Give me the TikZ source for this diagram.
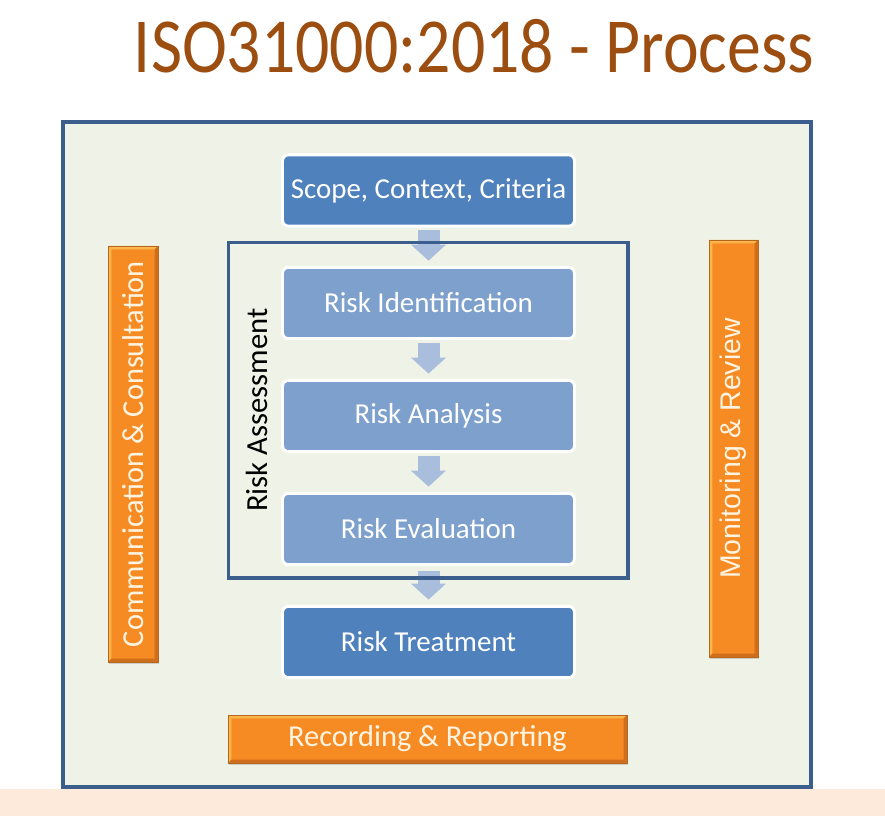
\documentclass[tikz,border=0pt]{standalone}
\usepackage{fontspec}
\setmainfont{Carlito}
\newfontfamily\arialf{Liberation Sans}
\usetikzlibrary{arrows.meta,shadows}
\definecolor{framefill}{HTML}{EFF2E7}
\definecolor{frameline}{HTML}{3B5E8C}
\definecolor{boxdark}{HTML}{4F81BD}
\definecolor{boxlight}{HTML}{7DA0CD}
\definecolor{arrowblue}{HTML}{A9BEDC}
\definecolor{orangemid}{HTML}{F68B24}
\definecolor{orangelight}{HTML}{FAB64A}
\definecolor{orangedark}{HTML}{CF6E1C}
\definecolor{orangeedge}{HTML}{B8681E}
\definecolor{barText}{HTML}{FFF4E2}
\definecolor{peach}{HTML}{FDEADA}
\definecolor{titlebrown}{HTML}{9C4D10}
\tikzset{
  bodyfont/.style={font=\fontsize{21.7}{25}\selectfont},
  barfont/.style={font=\fontsize{22.8}{26}\selectfont},
  bluebox/.style={rectangle, rounded corners=4.5pt, draw=white, line width=2.2pt,
    fill=boxdark, text=white, minimum width=219pt, minimum height=53.5pt,
    inner sep=0pt, outer sep=0pt, bodyfont},
  lightbox/.style={bluebox, fill=boxlight},
  orangebar/.style={rectangle, draw=orangeedge, line width=0.4pt,
    fill=orangemid, text=barText, inner sep=0pt, outer sep=0pt, barfont,
    drop shadow={opacity=0.3, shadow xshift=1pt, shadow yshift=-1.5pt},
    path picture={
      \coordinate (nw) at (path picture bounding box.north west);
      \coordinate (ne) at (path picture bounding box.north east);
      \coordinate (sw) at (path picture bounding box.south west);
      \coordinate (se) at (path picture bounding box.south east);
      \fill[orangelight] (nw) -- (ne) -- ([shift={(-2.5pt,-2.5pt)}]ne) -- ([shift={(2.5pt,-2.5pt)}]nw) -- cycle;
      \fill[orangelight] (nw) -- (sw) -- ([shift={(2.5pt,2.5pt)}]sw) -- ([shift={(2.5pt,-2.5pt)}]nw) -- cycle;
      \fill[orangedark] (sw) -- (se) -- ([shift={(-2.5pt,2.5pt)}]se) -- ([shift={(2.5pt,2.5pt)}]sw) -- cycle;
      \fill[orangedark] (ne) -- (se) -- ([shift={(-2.5pt,2.5pt)}]se) -- ([shift={(-2.5pt,-2.5pt)}]ne) -- cycle;
    }},
  blockarrow/.style={draw=arrowblue, line width=16.5pt,
    -{Triangle[width=25.5pt,length=12pt]}},
  framebox/.style={draw=frameline, line width=3pt},
  assessframe/.style={draw=frameline, line width=2.4pt}
}
\begin{document}
\begin{tikzpicture}[x=0.75pt,y=0.75pt]
\useasboundingbox (0,0) rectangle (885,-816);
\fill[white] (0,0) rectangle (885,-816);
\fill[peach] (0,-789) rectangle (885,-816);
% outer frame
\fill[framefill] (62.5,-122.5) rectangle (810.5,-787);
% title
\node[text=titlebrown, anchor=base, inner sep=0pt, font=\fontsize{50.8}{60}\selectfont,
  yscale=1.15, transform shape] (title) at (474,-73) {ISO31000:2018 - Process};
% process boxes
\node[bluebox] (scope) at (428.5,-190.5) {Scope, Context, Criteria};
\node[lightbox] (ident) at (428.5,-303) {Risk Identification};
\node[lightbox] (anal) at (428.5,-416) {Risk Analysis};
\node[lightbox] (eval) at (428.5,-529) {Risk Evaluation};
\node[bluebox] (treat) at (428.5,-642) {Risk Treatment};
% arrows
\draw[blockarrow] ([yshift=-3pt]scope.south) -- ([yshift=5pt]ident.north);
\draw[blockarrow] ([yshift=-3pt]ident.south) -- ([yshift=5pt]anal.north);
\draw[blockarrow] ([yshift=-3pt]anal.south) -- ([yshift=5pt]eval.north);
\draw[blockarrow] ([yshift=-5pt]eval.south) -- ([yshift=5pt]treat.north);
% risk assessment frame
\node[assessframe, rectangle, minimum width=299.6pt, minimum height=251.6pt,
  inner sep=0pt, outer sep=0pt] (assess) at (428.25,-410.25) {};
\node[rotate=90, font=\fontsize{23}{27}\selectfont, text=black, inner sep=0pt] (assesslabel) at (257,-410) {Risk Assessment};
% side and bottom bars
\node[orangebar, minimum width=37.5pt, minimum height=312pt] (comm) at (133,-454)
  {\rotatebox{90}{Communication \& Consultation}};
\node[orangebar, minimum width=36.75pt, minimum height=312.75pt,
  font=\arialf\fontsize{21.3}{24}\selectfont] (monit) at (733.5,-448.5)
  {\rotatebox{90}{Monitoring \& Review}};
\node[orangebar, minimum width=299.25pt, minimum height=36pt] (record) at (427.5,-739) {Recording \& Reporting};
% outer frame border
\draw[framebox] (62.5,-122.5) rectangle (810.5,-787);
\end{tikzpicture}
\end{document}
